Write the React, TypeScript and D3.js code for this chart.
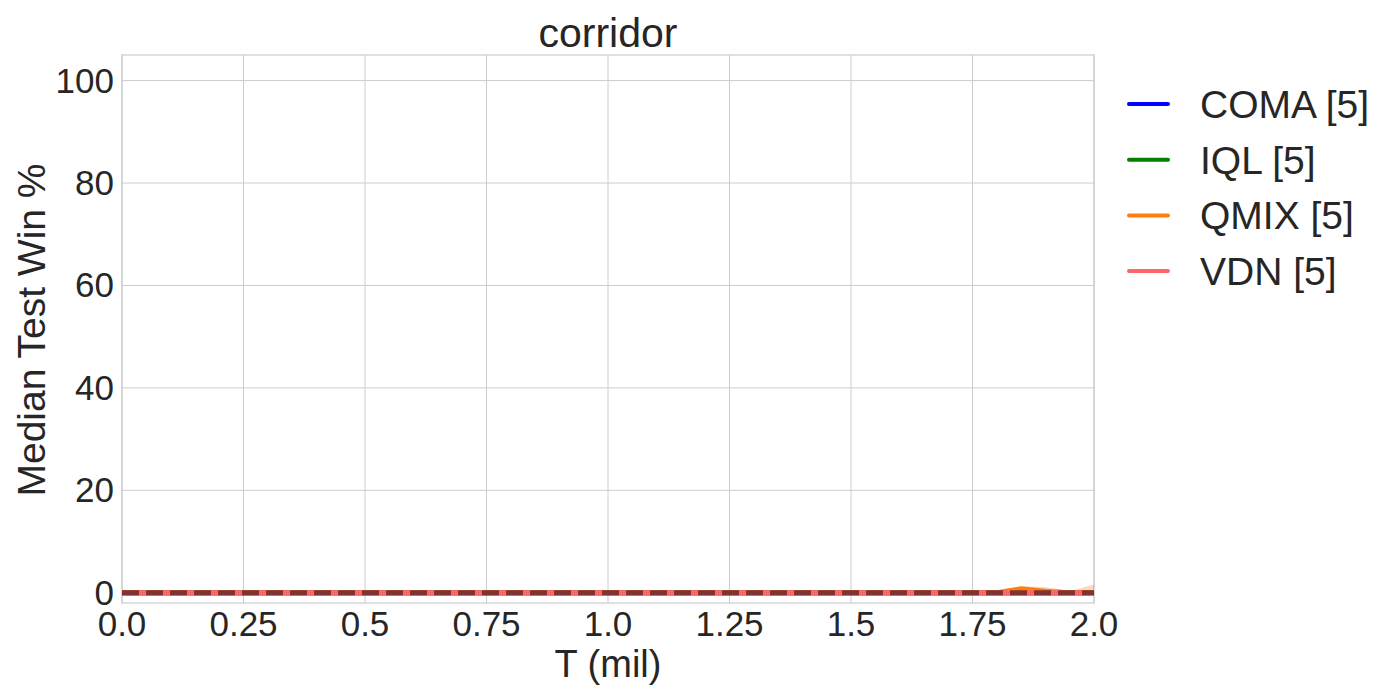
import React from "react";
import * as d3 from "d3";

const W = 1400;
const H = 700;
const margin = { left: 122, right: 306, top: 55, bottom: 97 };

// timesteps (mil)
const tSteps = [
  0.0, 0.05, 0.1, 0.15, 0.2, 0.25, 0.3, 0.35, 0.4, 0.45, 0.5, 0.55, 0.6, 0.65, 0.7, 0.75, 0.8, 0.85, 0.9, 0.95, 1.0,
  1.05, 1.1, 1.15, 1.2, 1.25, 1.3, 1.35, 1.4, 1.45, 1.5, 1.55, 1.6, 1.65, 1.7, 1.75, 1.8, 1.85, 1.9, 1.95, 2.0,
];

const comaMedian = [
  0, 0, 0, 0, 0, 0, 0, 0, 0, 0, 0, 0, 0, 0, 0, 0, 0, 0, 0, 0, 0, 0, 0, 0, 0, 0, 0, 0, 0, 0, 0, 0, 0, 0, 0, 0, 0, 0, 0, 0, 0,
];
const iqlMedian = [
  0, 0, 0, 0, 0, 0, 0, 0, 0, 0, 0, 0, 0, 0, 0, 0, 0, 0, 0, 0, 0, 0, 0, 0, 0, 0, 0, 0, 0, 0, 0, 0, 0, 0, 0, 0, 0, 0, 0, 0, 0,
];
const qmixMedian = [
  0, 0, 0, 0, 0, 0, 0, 0, 0, 0, 0, 0, 0, 0, 0, 0, 0, 0, 0, 0, 0, 0, 0, 0, 0, 0, 0, 0, 0, 0, 0, 0, 0, 0, 0, 0, 0, 0.8, 0.3, 0, 0,
];
const qmixUpper = [
  0, 0, 0, 0, 0, 0, 0, 0, 0, 0, 0, 0, 0, 0, 0, 0, 0, 0, 0, 0, 0, 0, 0, 0, 0, 0, 0, 0, 0, 0, 0, 0, 0, 0, 0, 0, 0, 1.2, 1.1, 0.3, 1.6,
];
const vdnMedian = [
  0, 0, 0, 0, 0, 0, 0, 0, 0, 0, 0, 0, 0, 0, 0, 0, 0, 0, 0, 0, 0, 0, 0, 0, 0, 0, 0, 0, 0, 0, 0, 0, 0, 0, 0, 0, 0, 0, 0, 0, 0,
];
// all-method median (dashed overlay)
const overallMedian = [
  0, 0, 0, 0, 0, 0, 0, 0, 0, 0, 0, 0, 0, 0, 0, 0, 0, 0, 0, 0, 0, 0, 0, 0, 0, 0, 0, 0, 0, 0, 0, 0, 0, 0, 0, 0, 0, 0, 0, 0, 0,
];

const xTicks = [0, 0.25, 0.5, 0.75, 1.0, 1.25, 1.5, 1.75, 2.0];
const xTickLabels = ["0.0", "0.25", "0.5", "0.75", "1.0", "1.25", "1.5", "1.75", "2.0"];
const yTicks = [0, 20, 40, 60, 80, 100];

const seriesNames = ["COMA [5]", "IQL [5]", "QMIX [5]", "VDN [5]"];
const seriesColors = ["#0000ff", "#008000", "#ff7f0e", "#ff6666"];
const seriesData = [comaMedian, iqlMedian, qmixMedian, vdnMedian];

const font = "'Liberation Sans', Arial, sans-serif";
const textColor = "#262626";

export default function App() {
  const x = d3.scaleLinear().domain([0, 2]).range([margin.left, W - margin.right]);
  const y = d3.scaleLinear().domain([-2, 105]).range([H - margin.bottom, margin.top]);

  const line = (vals: number[]) =>
    d3
      .line<number>()
      .x((_, i) => x(tSteps[i]))
      .y((d) => y(d))(vals) as string;

  const band = d3
    .area<number>()
    .x((_, i) => x(tSteps[i]))
    .y0(() => y(0))
    .y1((d) => y(d))(qmixUpper) as string;

  const pw = W - margin.left - margin.right;
  const ph = H - margin.top - margin.bottom;

  return (
    <svg width={W} height={H} style={{ position: "absolute", left: 0, top: 0, background: "#fff" }}>
      <rect x={0} y={0} width={W} height={H} fill="#fff" />
      {/* grid */}
      {xTicks.map((t) => (
        <line key={"gx" + t} x1={x(t)} x2={x(t)} y1={margin.top} y2={margin.top + ph} stroke="#cccccc" strokeWidth={1} />
      ))}
      {yTicks.map((t) => (
        <line key={"gy" + t} x1={margin.left} x2={margin.left + pw} y1={y(t)} y2={y(t)} stroke="#cccccc" strokeWidth={1} />
      ))}
      <rect x={margin.left} y={margin.top} width={pw} height={ph} fill="none" stroke="#cccccc" strokeWidth={1.2} />

      {/* quantile band */}
      <path d={band} fill="#ff7f0e" fillOpacity={0.3} stroke="none" />

      {/* series */}
      {seriesData.map((vals, i) => (
        <path key={seriesNames[i]} d={line(vals)} fill="none" stroke={seriesColors[i]} strokeWidth={5} />
      ))}
      <path d={line(overallMedian)} fill="none" stroke="#000" strokeOpacity={0.5} strokeWidth={5} strokeDasharray="17,7" />

      {/* tick labels */}
      {xTicks.map((t, i) => (
        <text key={"xt" + t} x={x(t)} y={H - margin.bottom + 33} textAnchor="middle" fontFamily={font} fontSize={35} fill={textColor}>
          {xTickLabels[i]}
        </text>
      ))}
      {yTicks.map((t) => (
        <text key={"yt" + t} x={margin.left - 8} y={y(t) + 12} textAnchor="end" fontFamily={font} fontSize={35} fill={textColor}>
          {t}
        </text>
      ))}

      {/* labels */}
      <text x={margin.left + pw / 2} y={47} textAnchor="middle" fontFamily={font} fontSize={41} fill={textColor}>
        corridor
      </text>
      <text x={margin.left + pw / 2} y={677} textAnchor="middle" fontFamily={font} fontSize={38} fill={textColor}>
        T (mil)
      </text>
      <text
        transform={`translate(45,330) rotate(-90)`}
        textAnchor="middle"
        fontFamily={font}
        fontSize={39}
        fill={textColor}
      >
        Median Test Win %
      </text>

      {/* legend */}
      {seriesNames.map((n, i) => (
        <g key={"lg" + n} transform={`translate(0,${104 + i * 55.7})`}>
          <line x1={1129} x2={1168} y1={0} y2={0} stroke={seriesColors[i]} strokeWidth={4} strokeLinecap="round" />
          <text x={1200} y={14} fontFamily={font} fontSize={39} fill={textColor}>
            {n}
          </text>
        </g>
      ))}
    </svg>
  );
}
